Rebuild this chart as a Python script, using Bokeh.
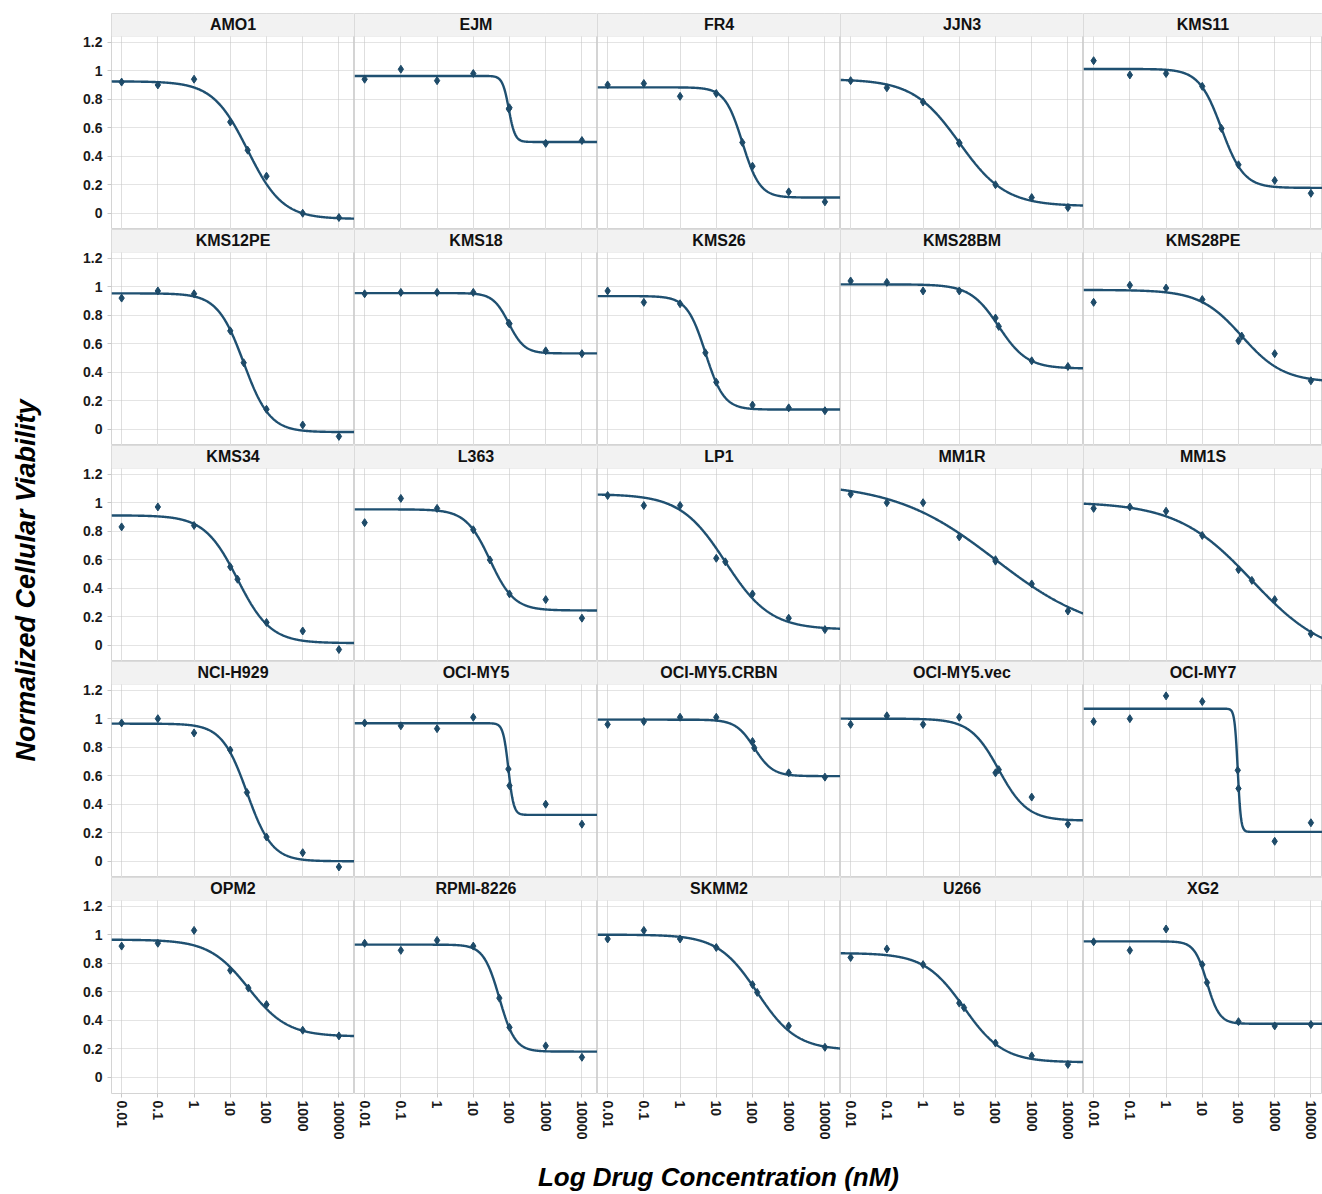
import math
import numpy as np
from bokeh.plotting import figure
from bokeh.layouts import row, column
from bokeh.models import FixedTicker, BoxAnnotation, Label, Range1d
from bokeh.embed import file_html
from bokeh.resources import INLINE

# ---------------- data ----------------
DOSES = [0.01, 0.1, 1, 10, 100, 1000, 10000]
XTICK_LABELS = ["0.01", "0.1", "1", "10", "100", "1000", "10000"]
YTICKS = [0, 0.2, 0.4, 0.6, 0.8, 1, 1.2]
YTICK_LABELS = ["0", "0.2", "0.4", "0.6", "0.8", "1", "1.2"]

CELL_LINES = ["AMO1", "EJM", "FR4", "JJN3", "KMS11",
              "KMS12PE", "KMS18", "KMS26", "KMS28BM", "KMS28PE",
              "KMS34", "L363", "LP1", "MM1R", "MM1S",
              "NCI-H929", "OCI-MY5", "OCI-MY5.CRBN", "OCI-MY5.vec", "OCI-MY7",
              "OPM2", "RPMI-8226", "SKMM2", "U266", "XG2"]

# measured viability at each dose in DOSES
V_AMO1 = [0.92, 0.90, 0.94, 0.64, 0.26, 0.00, -0.03]
V_EJM = [0.94, 1.01, 0.93, 0.98, 0.74, 0.49, 0.51]
V_FR4 = [0.90, 0.91, 0.82, 0.84, 0.33, 0.15, 0.08]
V_JJN3 = [0.93, 0.88, 0.78, 0.49, 0.20, 0.11, 0.04]
V_KMS11 = [1.07, 0.97, 0.98, 0.89, 0.34, 0.23, 0.14]
V_KMS12PE = [0.92, 0.97, 0.95, 0.69, 0.14, 0.03, -0.05]
V_KMS18 = [0.95, 0.96, 0.96, 0.96, 0.74, 0.55, 0.53]
V_KMS26 = [0.97, 0.89, 0.88, 0.33, 0.17, 0.15, 0.13]
V_KMS28BM = [1.04, 1.03, 0.97, 0.97, 0.78, 0.48, 0.44]
V_KMS28PE = [0.89, 1.01, 0.99, 0.91, 0.62, 0.53, 0.34]
V_KMS34 = [0.83, 0.97, 0.84, 0.55, 0.16, 0.10, -0.03]
V_L363 = [0.86, 1.03, 0.96, 0.81, 0.36, 0.32, 0.19]
V_LP1 = [1.05, 0.98, 0.98, 0.61, 0.36, 0.19, 0.11]
V_MM1R = [1.06, 1.00, 1.00, 0.76, 0.59, 0.43, 0.24]
V_MM1S = [0.96, 0.97, 0.94, 0.77, 0.53, 0.32, 0.08]
V_NCIH929 = [0.97, 1.00, 0.90, 0.78, 0.17, 0.06, -0.04]
V_OCIMY5 = [0.97, 0.95, 0.93, 1.01, 0.53, 0.40, 0.26]
V_OCIMY5_CRBN = [0.96, 0.98, 1.01, 1.01, 0.84, 0.62, 0.59]
V_OCIMY5_VEC = [0.96, 1.02, 0.96, 1.01, 0.62, 0.45, 0.26]
V_OCIMY7 = [0.98, 1.00, 1.16, 1.12, 0.51, 0.14, 0.27]
V_OPM2 = [0.92, 0.94, 1.03, 0.75, 0.51, 0.33, 0.29]
V_RPMI8226 = [0.94, 0.89, 0.96, 0.92, 0.35, 0.22, 0.14]
V_SKMM2 = [0.97, 1.03, 0.97, 0.91, 0.65, 0.36, 0.21]
V_U266 = [0.84, 0.90, 0.79, 0.52, 0.24, 0.15, 0.09]
V_XG2 = [0.95, 0.89, 1.04, 0.79, 0.39, 0.36, 0.37]

VIABILITY = [V_AMO1, V_EJM, V_FR4, V_JJN3, V_KMS11,
             V_KMS12PE, V_KMS18, V_KMS26, V_KMS28BM, V_KMS28PE,
             V_KMS34, V_L363, V_LP1, V_MM1R, V_MM1S,
             V_NCIH929, V_OCIMY5, V_OCIMY5_CRBN, V_OCIMY5_VEC, V_OCIMY7,
             V_OPM2, V_RPMI8226, V_SKMM2, V_U266, V_XG2]

# fitted four-parameter logistic curve parameters
FIT_TOP = [0.925, 0.963, 0.883, 0.94, 1.012,
           0.953, 0.955, 0.934, 1.016, 0.977,
           0.911, 0.953, 1.06, 1.14, 1.005,
           0.965, 0.968, 0.993, 1.0, 1.07,
           0.965, 0.93, 1.0, 0.871, 0.953]
FIT_BOTTOM = [-0.04, 0.50, 0.11, 0.05, 0.178,
              -0.02, 0.532, 0.138, 0.426, 0.33,
              0.015, 0.244, 0.11, 0.06, -0.095,
              0.0, 0.325, 0.597, 0.285, 0.206,
              0.286, 0.18, 0.19, 0.105, 0.375]
FIT_LOG_EC50 = [1.48, 1.98, 1.72, 1.0, 1.53,
                1.37, 1.98, 0.70, 2.09, 2.09,
                1.2, 1.46, 1.25, 2.0, 2.37,
                1.46, 1.97, 2.05, 2.09, 1.98,
                1.5, 1.72, 2.13, 1.13, 1.13]
FIT_HILL = [0.9, 5.0, 1.8, 0.68, 1.4,
            1.2, 2.0, 1.7, 1.1, 0.75,
            0.95, 1.3, 0.7, 0.31, 0.42,
            1.25, 6.0, 1.7, 1.1, 10.0,
            0.8, 2.0, 0.8, 0.8, 2.5]

# ---------------- style / layout ----------------
CURVE_COLOR = "#1f5071"
POINT_COLOR = "#1d4a68"
FONT = "Liberation Sans"
LOG_X0 = -2.28
LOG_X1 = 4.43
LOG_X1_LAST = 4.32
Y0, Y_STRIP, Y_TOP = -0.114, 1.24, 1.401
FRAME_W = [243, 243, 243, 243, 239]
FRAME_H = 216
LEFT_W = 60

panel_rows = []
for r in range(5):
    figs = []
    for c in range(5):
        i = r * 5 + c
        x_end = LOG_X1 if c < 4 else LOG_X1_LAST
        p = figure(frame_width=FRAME_W[c], frame_height=FRAME_H,
                   x_axis_type="log",
                   x_range=Range1d(10 ** LOG_X0, 10 ** x_end),
                   y_range=Range1d(Y0, Y_TOP),
                   x_axis_location="below" if r == 4 else None,
                   y_axis_location="left" if c == 0 else None,
                   output_backend="svg", toolbar_location=None,
                   min_border=0,
                   min_border_left=51 if c == 0 else 0,
                   min_border_right=0,
                   min_border_top=13 if r == 0 else 0,
                   min_border_bottom=58 if r == 4 else 0)
        p.background_fill_color = "white"
        p.border_fill_color = "white"
        p.outline_line_color = "#d4d4d4"
        p.outline_line_width = 1

        p.xgrid.ticker = FixedTicker(ticks=DOSES)
        p.ygrid.ticker = FixedTicker(ticks=YTICKS)
        p.xgrid.grid_line_color = "#dedede"
        p.xgrid.grid_line_width = 1
        p.ygrid.grid_line_color = "#c8c8c8"
        p.ygrid.grid_line_dash = "1 1"
        p.ygrid.grid_line_width = 1

        if c == 0:
            ax = p.yaxis[0]
            ax.ticker = FixedTicker(ticks=YTICKS)
            ax.major_label_overrides = dict(zip(YTICKS, YTICK_LABELS))
            ax.major_label_text_font = FONT
            ax.major_label_text_font_style = "bold"
            ax.major_label_text_font_size = "14px"
            ax.major_label_text_color = "#1a1a1a"
            ax.axis_line_color = None
            ax.major_tick_line_color = "#c8c8c8"
            ax.major_tick_out = 4
            ax.major_tick_in = 0
            ax.minor_tick_line_color = None
            ax.major_label_standoff = 5
        if r == 4:
            ax = p.xaxis[0]
            ax.ticker = FixedTicker(ticks=DOSES)
            ax.major_label_overrides = dict(zip(DOSES, XTICK_LABELS))
            ax.major_label_orientation = "vertical"
            ax.major_label_text_font = FONT
            ax.major_label_text_font_style = "bold"
            ax.major_label_text_font_size = "14px"
            ax.major_label_text_color = "#1a1a1a"
            ax.axis_line_color = None
            ax.major_tick_line_color = "#c8c8c8"
            ax.major_tick_out = 4
            ax.major_tick_in = 0
            ax.minor_tick_line_color = None
            ax.major_label_standoff = 3

        # fitted curve
        top, bot, ec, h = FIT_TOP[i], FIT_BOTTOM[i], FIT_LOG_EC50[i], FIT_HILL[i]
        lx = np.linspace(LOG_X0, x_end, 500)
        cy = bot + (top - bot) / (1.0 + 10 ** (h * (lx - ec)))
        p.line(10 ** lx, cy, line_color=CURVE_COLOR, line_width=2.4)

        # measured points
        p.scatter(DOSES, VIABILITY[i], marker="diamond", size=8,
                  fill_color=POINT_COLOR, line_color=POINT_COLOR)
        # EC50 marker on the curve
        p.scatter([10 ** ec], [(top + bot) / 2.0], marker="diamond", size=8,
                  fill_color=POINT_COLOR, line_color=POINT_COLOR)

        # title strip
        p.add_layout(BoxAnnotation(bottom=Y_STRIP, fill_color="#f2f2f2", fill_alpha=1.0,
                                   line_color="#d4d4d4", line_width=1))
        p.add_layout(Label(x=10 ** ((LOG_X0 + x_end) / 2.0), y=(Y_STRIP + Y_TOP) / 2.0,
                           text=CELL_LINES[i], text_align="center", text_baseline="middle",
                           text_font=FONT, text_font_style="bold",
                           text_font_size="16px", text_color="#111111"))
        figs.append(p)
    panel_rows.append(row(*figs, spacing=0))

grid = column(*panel_rows, spacing=0)
grid_height = 13 + FRAME_H * 5 + 58

ylab = figure(width=LEFT_W, height=grid_height, x_range=(0, 1), y_range=(0, 1),
              x_axis_location=None, y_axis_location=None,
              output_backend="svg", toolbar_location=None, min_border=0)
ylab.grid.visible = False
ylab.outline_line_color = None
ylab.add_layout(Label(x=25 / LEFT_W, y=1 - 580 / grid_height, angle=math.pi / 2,
                      text="Normalized Cellular Viability", text_align="center",
                      text_baseline="middle", text_font=FONT, text_font_style="bold italic",
                      text_font_size="27px", text_color="#000000"))

xlab_h = 43
xlab = figure(width=1322, height=xlab_h, x_range=(0, 1), y_range=(0, 1),
              x_axis_location=None, y_axis_location=None,
              output_backend="svg", toolbar_location=None, min_border=0)
xlab.grid.visible = False
xlab.outline_line_color = None
xlab.add_layout(Label(x=718 / 1322, y=1 - (1176 - grid_height) / xlab_h,
                      text="Log Drug Concentration (nM)", text_align="center",
                      text_baseline="middle", text_font=FONT, text_font_style="bold italic",
                      text_font_size="26px", text_color="#000000"))

layout = column(row(ylab, grid, spacing=0), xlab, spacing=0)

open("out.html", "w").write(file_html(layout, INLINE))
